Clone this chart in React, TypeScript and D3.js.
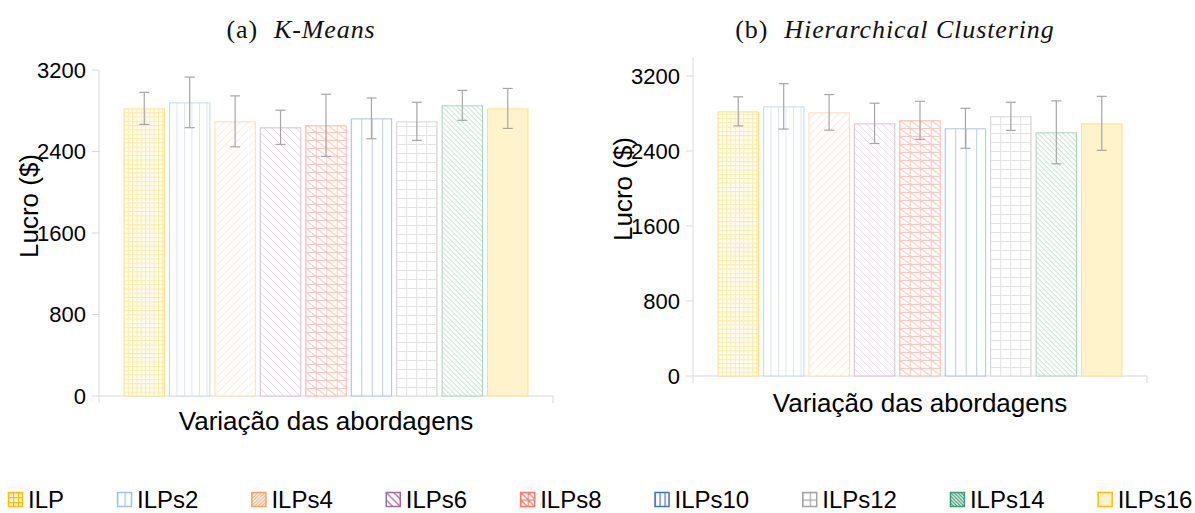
import React from "react";
import * as d3 from "d3";

const categories = ["ILP", "ILPs2", "ILPs4", "ILPs6", "ILPs8", "ILPs10", "ILPs12", "ILPs14", "ILPs16"];
const kmeansValues = [2823, 2882, 2696, 2637, 2657, 2725, 2696, 2853, 2823];
const kmeansErrors = [157, 248, 250, 168, 305, 200, 187, 147, 196];
const hierValues = [2823, 2876, 2812, 2695, 2727, 2642, 2770, 2599, 2695];
const hierErrors = [155, 242, 190, 215, 203, 213, 150, 336, 288];
const yTicks = [0, 800, 1600, 2400, 3200];

type Kind = "grid" | "vlines" | "up" | "down" | "griddown" | "solid";
interface Style { kind: Kind; sx: number; sy: number; line: string; border: string; fill: string; legLine: string; legBorder: string; legFill: string; legSx: number; legSy: number; }

const styles: Style[] = [
  { kind: "grid", sx: 4.3, sy: 4.3, line: "#FFEAA8", border: "#FFE08A", fill: "#FFFDF6", legLine: "#FFC000", legBorder: "#FFC000", legFill: "#FFF2CC", legSx: 5, legSy: 5 },
  { kind: "vlines", sx: 7.5, sy: 7.5, line: "#DCE6F3", border: "#C5D8EF", fill: "#FFFFFF", legLine: "#9DC3E6", legBorder: "#9DC3E6", legFill: "#FFFFFF", legSx: 7.5, legSy: 7.5 },
  { kind: "up", sx: 8, sy: 8, line: "#FDE5D0", border: "#FCDDB8", fill: "#FFFFFF", legLine: "#F4B183", legBorder: "#F4A261", legFill: "#FFFFFF", legSx: 3.5, legSy: 3.5 },
  { kind: "down", sx: 8, sy: 8, line: "#EAD3E6", border: "#D9BCD5", fill: "#FFFFFF", legLine: "#A5679E", legBorder: "#A5679E", legFill: "#FFFFFF", legSx: 7.5, legSy: 7.5 },
  { kind: "griddown", sx: 10.5, sy: 8, line: "#FFCABF", border: "#FFB7A8", fill: "#FFFFFF", legLine: "#FF7B66", legBorder: "#FF7B66", legFill: "#FFFFFF", legSx: 7.5, legSy: 7.5 },
  { kind: "vlines", sx: 10.5, sy: 10.5, line: "#BBCBE3", border: "#AFC2DF", fill: "#FFFFFF", legLine: "#4472C4", legBorder: "#4472C4", legFill: "#FFFFFF", legSx: 5, legSy: 5 },
  { kind: "grid", sx: 10, sy: 9, line: "#E3E3E3", border: "#D6D6D6", fill: "#FFFFFF", legLine: "#A5A5A5", legBorder: "#A5A5A5", legFill: "#FFFFFF", legSx: 7.5, legSy: 7.5 },
  { kind: "down", sx: 5, sy: 5, line: "#B7DDCC", border: "#A8D3BF", fill: "#FFFFFF", legLine: "#3A9A70", legBorder: "#3A9A70", legFill: "#FFFFFF", legSx: 3.5, legSy: 3.5 },
  { kind: "solid", sx: 5, sy: 5, line: "#FFE59A", border: "#FFE08A", fill: "#FFF3CC", legLine: "#FFC000", legBorder: "#FFC000", legFill: "#FFF2CC", legSx: 5, legSy: 5 },
];

function Pattern({ id, kind, sx, sy, line, fill, sw, x0, y0 }: { id: string; kind: Kind; sx: number; sy: number; line: string; fill: string; sw: number; x0: number; y0: number }) {
  let d = "";
  if (kind === "grid") d = `M0,0.5 H${sx} M0.5,0 V${sy}`;
  else if (kind === "vlines") d = `M0.5,0 V${sy}`;
  else if (kind === "up") d = `M0,${sy} L${sx},0 M${-sx / 2},${sy / 2} L${sx / 2},${-sy / 2} M${sx / 2},${sy * 1.5} L${sx * 1.5},${sy / 2}`;
  else if (kind === "down") d = `M0,0 L${sx},${sy} M${-sx / 2},${sy / 2} L${sx / 2},${sy * 1.5} M${sx / 2},${-sy / 2} L${sx * 1.5},${sy / 2}`;
  else if (kind === "griddown") d = `M0,0.5 H${sx} M0.5,0 V${sy} M0,0 L${sx},${sy} M${-sx / 2},${sy / 2} L${sx / 2},${sy * 1.5} M${sx / 2},${-sy / 2} L${sx * 1.5},${sy / 2}`;
  return (
    <pattern id={id} patternUnits="userSpaceOnUse" width={sx} height={sy} x={x0} y={y0}>
      <rect width={sx} height={sy} fill={fill} />
      {d && <path d={d} stroke={line} strokeWidth={sw} fill="none" />}
    </pattern>
  );
}

const FONT = "'Liberation Sans', Arial, sans-serif";
const SERIF = "'Liberation Serif', 'Times New Roman', serif";

function Panel({ pid, values, errors, x0, x1, yZero, yTop, title, titleX, labelX, labelY, xLabelY }: { pid: string; values: number[]; errors: number[]; x0: number; x1: number; yZero: number; yTop: number; title: [string, string]; titleX: number; labelX: number; labelY: number; xLabelY: number }) {
  const y = d3.scaleLinear().domain([0, 3200]).range([yZero, yTop]);
  const x = d3.scaleBand<string>().domain(categories).range([x0, x1]).paddingInner(0.088).paddingOuter(0.54);
  const axisTop = pid === "b" ? y(3400) : y(3200);
  const grey = "#D9D9D9";
  return (
    <g>
      <text x={titleX} y={38} textAnchor="middle" fontFamily={SERIF} fontSize={26} letterSpacing={0.9} fill="#111">
        <tspan>{title[0]}</tspan>
        <tspan dx={16} fontStyle="italic">{title[1]}</tspan>
      </text>
      <line x1={x0} x2={x0} y1={axisTop} y2={yZero + 7} stroke={grey} strokeWidth={1} />
      <line x1={x0} x2={x1} y1={yZero} y2={yZero} stroke={grey} strokeWidth={1} />
      <line x1={x1} x2={x1} y1={yZero} y2={yZero + 7} stroke={grey} strokeWidth={1} />
      {yTicks.map((t) => (
        <g key={t}>
          <line x1={x0 - 7} x2={x0} y1={y(t)} y2={y(t)} stroke={grey} strokeWidth={1} />
          <text x={x0 - 13} y={y(t)} dy="0.36em" textAnchor="end" fontFamily={FONT} fontSize={22} fill="#000">{t}</text>
        </g>
      ))}
      <text transform={`translate(${labelX},${labelY}) rotate(-90)`} textAnchor="middle" fontFamily={FONT} fontSize={26} fill="#000">Lucro ($)</text>
      <text x={(x0 + x1) / 2} y={xLabelY} textAnchor="middle" fontFamily={FONT} fontSize={26} fill="#000">Variação das abordagens</text>
      {categories.map((c, i) => {
        const s = styles[i];
        const bx = x(c)!;
        const bw = x.bandwidth();
        const top = y(values[i]);
        return (
          <g key={c}>
            <defs>
              <Pattern id={`p-${pid}-${i}`} kind={s.kind} sx={s.sx} sy={s.sy} line={s.line} fill={s.fill} sw={1} x0={bx} y0={yZero} />
            </defs>
            <rect x={bx + 0.5} y={top + 0.5} width={bw - 1} height={yZero - top - 0.5} fill={`url(#p-${pid}-${i})`} stroke={s.border} strokeWidth={1} />
          </g>
        );
      })}
      {categories.map((c, i) => {
        const cx = x(c)! + x.bandwidth() / 2;
        const hi = y(values[i] + errors[i]);
        const lo = y(values[i] - errors[i]);
        return (
          <g key={c} stroke="#A6A6A6" strokeWidth={1.2}>
            <line x1={cx} x2={cx} y1={hi} y2={lo} />
            <line x1={cx - 5} x2={cx + 5} y1={hi} y2={hi} />
            <line x1={cx - 5} x2={cx + 5} y1={lo} y2={lo} />
          </g>
        );
      })}
    </g>
  );
}

function measure(text: string, font: string): number {
  if (typeof document === "undefined") return text.length * 13;
  const c = document.createElement("canvas");
  const ctx = c.getContext("2d")!;
  ctx.font = font;
  return ctx.measureText(text).width;
}

function Legend() {
  const font = `24px ${FONT}`;
  let cx = 8;
  const items = categories.map((c, i) => {
    const w = measure(c, font);
    const item = { c, i, x: cx };
    cx += w + 73;
    return item;
  });
  const sy = 492;
  return (
    <g>
      {items.map(({ c, i, x }) => {
        const s = styles[i];
        return (
          <g key={c}>
            <defs>
              <Pattern id={`leg-${i}`} kind={s.kind} sx={s.legSx} sy={s.legSy} line={s.legLine} fill={s.legFill} sw={1.3} x0={x} y0={sy} />
            </defs>
            <rect x={x + 0.5} y={sy + 0.5} width={14} height={14} fill={`url(#leg-${i})`} stroke={s.legBorder} strokeWidth={1.5} />
            <text x={x + 20} y={sy + 16} fontFamily={FONT} fontSize={24} fill="#000">{c}</text>
          </g>
        );
      })}
    </g>
  );
}

export default function App() {
  return (
    <svg width={1195} height={513} style={{ position: "absolute", left: 0, top: 0, background: "#fff" }}>
      <rect width={1195} height={513} fill="#fff" />
      <Panel pid="a" values={kmeansValues} errors={kmeansErrors} x0={99} x1={553} yZero={396} yTop={70} title={["(a)", "K-Means"]} titleX={301} labelX={38} labelY={206} xLabelY={430} />
      <Panel pid="b" values={hierValues} errors={hierErrors} x0={693} x1={1147} yZero={376} yTop={76} title={["(b)", "Hierarchical Clustering"]} titleX={895} labelX={632} labelY={189} xLabelY={412} />
      <Legend />
    </svg>
  );
}
